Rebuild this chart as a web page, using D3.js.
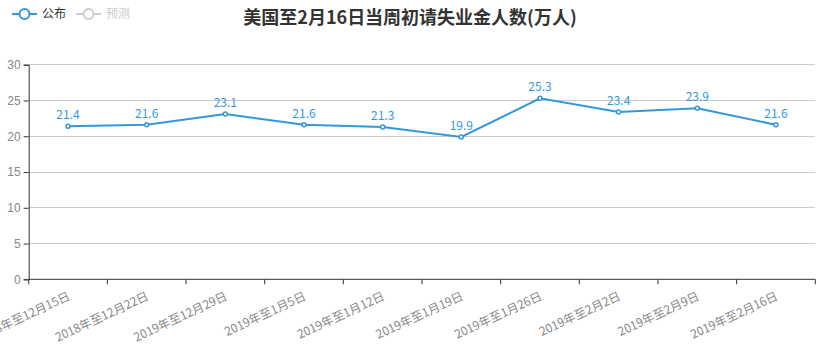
<!DOCTYPE html>
<html><head><meta charset="utf-8">
<script src="https://cdn.jsdelivr.net/npm/d3@7/dist/d3.min.js"></script>
<style>body{margin:0;background:#fff;}svg{display:block;font-family:"Microsoft YaHei","Noto Sans CJK SC",sans-serif;}</style>
</head><body><svg id="c" width="820" height="351"></svg>
<script>
const categories = ["2018年至12月15日","2018年至12月22日","2019年至12月29日","2019年至1月5日","2019年至1月12日","2019年至1月19日","2019年至1月26日","2019年至2月2日","2019年至2月9日","2019年至2月16日"];
const published = [21.4,21.6,23.1,21.6,21.3,19.9,25.3,23.4,23.9,21.6];
const yTicks = [0,5,10,15,20,25,30];
const title = "美国至2月16日当周初请失业金人数(万人)";
const legendItems = ["公布","预测"];

const svg = d3.select("#c");
const blue = "#3398db";
const mL = 28.7, mR = 815.3, mT = 64.7, mB = 279.3;
const x = d3.scaleBand().domain(categories).range([mL, mR]);
const y = d3.scaleLinear().domain([0,30]).range([mB, mT]);

// grid
svg.append("g").selectAll("line").data(yTicks.filter(d=>d>0)).join("line")
  .attr("x1", mL).attr("x2", mR).attr("y1", d=>y(d)).attr("y2", d=>y(d))
  .attr("stroke", "#ccc").attr("stroke-width", 1).attr("shape-rendering","crispEdges");

// y axis
const ya = svg.append("g").attr("transform", `translate(${mL},0)`)
  .call(d3.axisLeft(y).tickValues(yTicks).tickSize(5).tickPadding(3));
ya.select(".domain").attr("stroke", "#333");
ya.selectAll(".tick line").attr("stroke", "#333");
ya.selectAll("text").attr("fill", "#888").style("font-size","12px");

// x axis
const xa = svg.append("g").attr("transform", `translate(0,${mB})`)
  .call(d3.axisBottom(x).tickSize(0).tickFormat(""));
xa.select(".domain").attr("stroke", "#333").attr("d", `M${mL},0H${mR}`);
svg.append("g").selectAll("line").data(d3.range(categories.length+1)).join("line")
  .attr("x1", i=>mL + i*x.step()).attr("x2", i=>mL + i*x.step())
  .attr("y1", mB).attr("y2", mB+5).attr("stroke","#333");
svg.append("g").selectAll("text").data(categories).join("text")
  .attr("transform", d=>`translate(${x(d)+x.bandwidth()/2+1},${mB+16}) rotate(-25)`)
  .attr("text-anchor","end").attr("dy","0.35em")
  .attr("fill","#888").style("font-size","12px").text(d=>d);

// line
const line = d3.line().x((d,i)=>x(categories[i])+x.bandwidth()/2).y(d=>y(d));
svg.append("path").datum(published).attr("d", line)
  .attr("fill","none").attr("stroke", blue).attr("stroke-width", 2);
svg.append("g").selectAll("circle").data(published).join("circle")
  .attr("cx",(d,i)=>x(categories[i])+x.bandwidth()/2).attr("cy", d=>y(d)).attr("r", 2)
  .attr("fill","#fff").attr("stroke", blue).attr("stroke-width", 1.5);
svg.append("g").selectAll("text").data(published).join("text")
  .attr("x",(d,i)=>x(categories[i])+x.bandwidth()/2).attr("y", d=>y(d)-7)
  .attr("text-anchor","middle").attr("fill", blue).style("font-size","12px")
  .text(d=>d3.format(".1f")(d));

// title
svg.append("text").attr("x", 410).attr("y", 24).attr("text-anchor","middle")
  .attr("fill","#333").style("font-size","18px").style("font-weight","bold").text(title);

// legend
const lg = svg.append("g");
const lcolors = [blue, "#ccc"], tcolors = ["#333", "#ccc"];
legendItems.forEach((t,i)=>{
  const x0 = 12 + i*64;
  lg.append("line").attr("x1", x0).attr("x2", x0+25).attr("y1", 14).attr("y2", 14)
    .attr("stroke", lcolors[i]).attr("stroke-width", 2);
  lg.append("circle").attr("cx", x0+12.5).attr("cy", 14).attr("r", 5)
    .attr("fill","#fff").attr("stroke", lcolors[i]).attr("stroke-width", 2);
  lg.append("text").attr("x", x0+30).attr("y", 14).attr("dy","0.35em")
    .attr("fill", tcolors[i]).style("font-size","12px").text(t);
});
</script></body></html>
